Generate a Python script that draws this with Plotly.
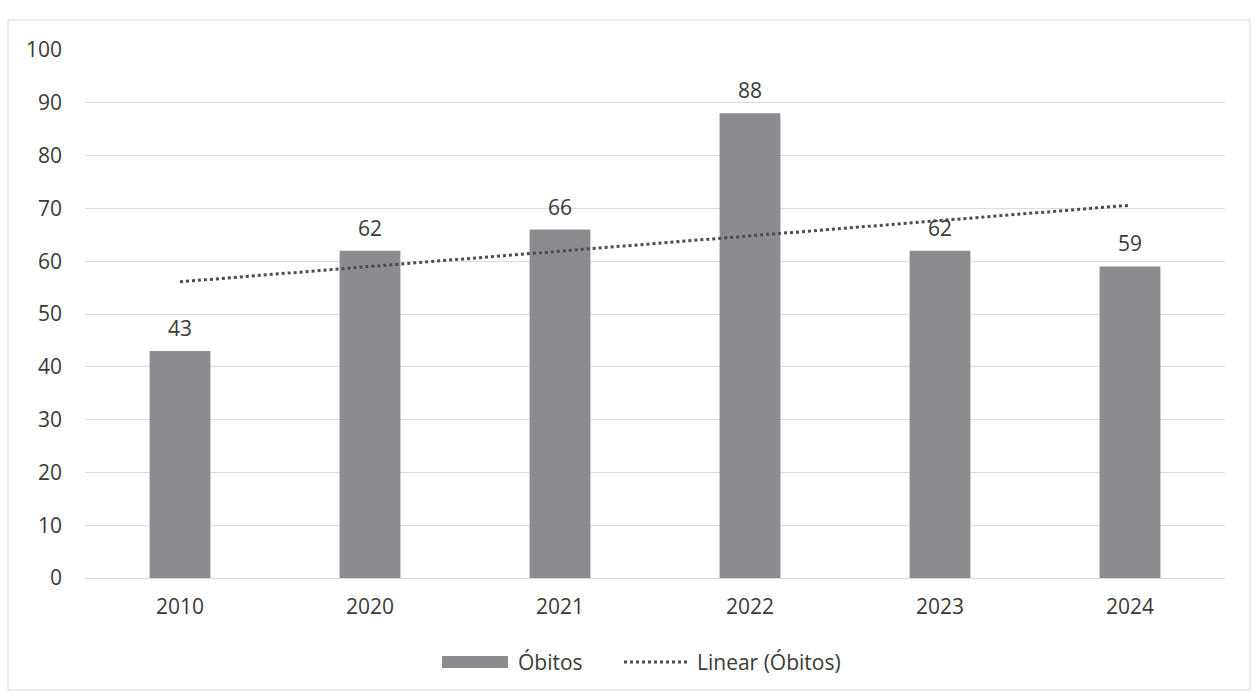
import plotly.graph_objects as go

years = ["2010", "2020", "2021", "2022", "2023", "2024"]
obitos = [43, 62, 66, 88, 62, 59]
trend_years = ["2010", "2024"]
trend_values = [56.1, 70.6]
y_ticks = [0, 10, 20, 30, 40, 50, 60, 70, 80, 90, 100]
legend_labels = ["Óbitos", "Linear (Óbitos)"]

FONT = "'Open Sans', sans-serif"
TXT = "#3a3a3a"
BAR = "#8c8c90"
TREND = "#4d4d4d"
SZ = 21

# pixel geometry helpers for the layout (margins)
L, R, T, B, W, H = 85, 35, 50, 122, 1260, 700
PW, PH = W - L - R, H - T - B
def px(x):
    return (x - L) / PW
def py(y):
    return (H - B - y) / PH

fig = go.Figure()
fig.add_trace(go.Bar(
    x=years, y=obitos, name=legend_labels[0],
    marker=dict(color=BAR, line=dict(width=0)),
    showlegend=False,
))
fig.add_trace(go.Scatter(
    x=trend_years, y=trend_values, mode="lines", name=legend_labels[1],
    line=dict(color=TREND, width=3, dash="dot"), showlegend=False,
))

annotations = []
for i, v in enumerate(obitos):
    annotations.append(dict(x=i, y=v, xref="x", yref="y", text=str(v), showarrow=False,
                            yanchor="bottom", yshift=7,
                            font=dict(size=SZ, color=TXT, family=FONT)))
annotations.append(dict(x=px(516), y=py(662), xref="paper", yref="paper", text=legend_labels[0],
                        showarrow=False, xanchor="left", yanchor="middle",
                        font=dict(size=SZ, color=TXT, family=FONT)))
annotations.append(dict(x=px(695), y=py(662), xref="paper", yref="paper", text=legend_labels[1],
                        showarrow=False, xanchor="left", yanchor="middle",
                        font=dict(size=SZ, color=TXT, family=FONT)))

shapes = [
    dict(type="rect", xref="paper", yref="paper",
         x0=px(8), x1=px(1250), y0=py(690), y1=py(20),
         line=dict(color="#d9d9d9", width=1), fillcolor="rgba(0,0,0,0)", layer="below"),
    dict(type="rect", xref="paper", yref="paper",
         x0=px(442), x1=px(508), y0=py(668), y1=py(656),
         line=dict(width=0), fillcolor=BAR),
    dict(type="line", xref="paper", yref="paper",
         x0=px(624), x1=px(688), y0=py(662), y1=py(662),
         line=dict(color=TREND, width=3, dash="dot")),
]

fig.update_layout(
    width=W, height=H,
    margin=dict(l=L, r=R, t=T, b=B),
    paper_bgcolor="white", plot_bgcolor="white",
    font=dict(family=FONT, size=SZ, color=TXT),
    bargap=0.68,
    showlegend=False,
    xaxis=dict(type="category", categoryorder="array", categoryarray=years,
               range=[-0.5, len(years) - 0.5],
               showgrid=False, showline=True, linecolor="#d9d9d9",
               ticks="", tickfont=dict(size=SZ, color=TXT), ticklabelstandoff=10),
    yaxis=dict(range=[0, 100], tickvals=y_ticks, showgrid=True, gridcolor="#dcdcdc",
               gridwidth=1, zeroline=False, showline=False, ticks="",
               tickfont=dict(size=SZ, color=TXT), ticklabelstandoff=22),
    annotations=annotations,
    shapes=shapes,
)

fig.write_html("out.html")
